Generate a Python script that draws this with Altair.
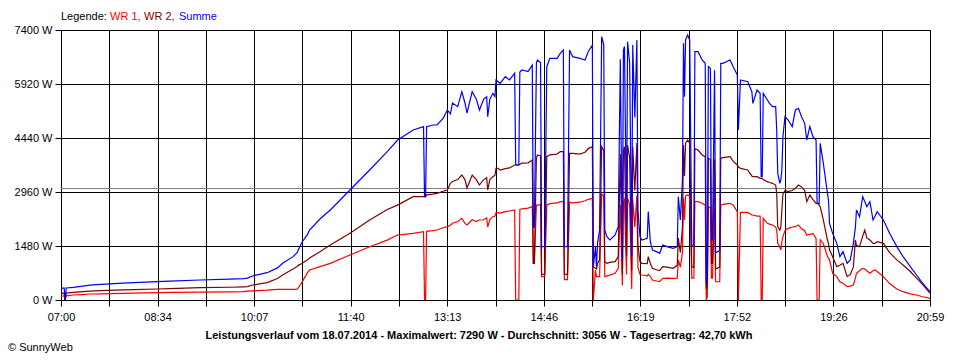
import json
import altair as alt
import pandas as pd

# ---------------- data ----------------
times = [
    "07:00", "07:03", "07:04", "07:05", "07:12", "07:21", "07:28", "07:38", "08:00", "08:10",
    "08:33", "08:45", "09:14", "09:43", "09:56", "10:00", "10:05", "10:19", "10:29", "10:34",
    "10:44", "10:48", "10:49", "10:53", "10:58", "11:00", "11:10", "11:20", "11:39", "11:58",
    "12:15", "12:25", "12:40", "12:50", "12:51", "12:52", "12:53", "12:59", "13:03", "13:09",
    "13:13", "13:16", "13:18", "13:23", "13:27", "13:30", "13:32", "13:37", "13:41", "13:44",
    "13:48", "13:51", "13:52", "13:54", "13:57", "13:59", "14:00", "14:02", "14:04", "14:09",
    "14:13", "14:18", "14:19", "14:22", "14:23", "14:25", "14:31", "14:35", "14:36", "14:37",
    "14:39", "14:40", "14:43", "14:44", "14:47", "14:49", "14:52", "14:59", "15:02", "15:05",
    "15:06", "15:09", "15:11", "15:14", "15:21", "15:26", "15:29", "15:33", "15:34", "15:36",
    "15:37", "15:38", "15:40", "15:42", "15:44", "15:45", "15:47", "15:50", "15:55", "15:58",
    "16:00", "16:02", "16:03", "16:04", "16:06", "16:07", "16:09", "16:11", "16:12", "16:14",
    "16:16", "16:17", "16:19", "16:21", "16:26", "16:27", "16:29", "16:31", "16:35", "16:38",
    "16:41", "16:45", "16:51", "16:55", "16:56", "16:58", "17:00", "17:01", "17:02", "17:03",
    "17:05", "17:07", "17:09", "17:11", "17:12", "17:15", "17:19", "17:22", "17:23", "17:24",
    "17:25", "17:27", "17:28", "17:29", "17:31", "17:32", "17:36", "17:37", "17:39", "17:46",
    "17:49", "17:53", "17:54", "17:56", "18:03", "18:07", "18:08", "18:12", "18:15", "18:16",
    "18:17", "18:18", "18:22", "18:24", "18:27", "18:30", "18:31", "18:32", "18:34", "18:35",
    "18:36", "18:37", "18:39", "18:42", "18:46", "18:49", "18:52", "18:55", "18:58", "19:00",
    "19:03", "19:06", "19:09", "19:10", "19:12", "19:13", "19:16", "19:20", "19:21", "19:22",
    "19:25", "19:29", "19:32", "19:35", "19:39", "19:42", "19:45", "19:47", "19:48", "19:51",
    "19:54", "19:56", "19:58", "20:01", "20:04", "20:06", "20:08", "20:14", "20:20", "20:27",
    "20:33", "20:40", "20:46", "20:52", "20:59",
]

summe = [
    320, 330, 0, 330, 345, 380, 410, 430, 465, 475,
    503, 515, 548, 570, 585, 600, 658, 749, 880, 1005,
    1188, 1300, 1370, 1598, 1800, 1919, 2220, 2467, 3015, 3563,
    4065, 4385, 4659, 4750, 2831, 2831, 4750, 4796, 4800, 4979,
    5207, 5100, 5400, 5300, 5710, 5400, 5125, 5710, 5500, 5207,
    5500, 5572, 5024, 5500, 5664, 5573, 6030, 5983, 5938, 6121,
    6030, 6213, 3700, 3700, 6250, 6304, 6258, 6441, 2000, 2000,
    6500, 6578, 6500, 1462, 1462, 6395, 6624, 6624, 6760, 6852,
    1462, 1462, 6852, 6669, 6624, 6578, 6806, 6989, 900, 1462,
    900, 1553, 1918, 7217, 7000, 1918, 1736, 1644, 1781, 2010,
    6600, 1100, 6850, 6950, 2000, 7080, 6500, 1200, 6990, 5000,
    7126, 2467, 1736, 1644, 1690, 2421, 1600, 1370, 1325, 1279,
    1507, 1462, 1416, 1462, 2832, 2193, 3289, 7035, 5573, 7126,
    7263, 7126, 1500, 1500, 6806, 6806, 6578, 6486, 457, 600,
    6400, 6349, 1644, 1644, 6300, 1300, 1350, 6486, 6486, 6578,
    6395, 6167, 4659, 6030, 5984, 5710, 5390, 5755, 5664, 3380,
    3380, 5664, 5482, 5390, 5299, 5300, 4659, 3471, 3198, 3300,
    3563, 4477, 5025, 4933, 4751, 5207, 5253, 5025, 4842, 4385,
    4751, 4477, 4385, 2649, 2649, 4294, 3746, 2924, 2741, 2101,
    1827, 1553, 1188, 1325, 1005, 1096, 1553, 2000, 2467, 2284,
    2832, 2700, 2558, 2695, 2193, 2300, 2421, 2193, 1827, 1462,
    1188, 914, 685, 457, 228,
]

wr2 = [
    183, 190, 0, 190, 210, 228, 245, 256, 280, 285,
    301, 310, 338, 350, 360, 365, 411, 475, 590, 685,
    850, 920, 950, 1005, 1100, 1150, 1324, 1507, 1827, 2193,
    2480, 2600, 2831, 2831, 2831, 2831, 2880, 2900, 2924, 2980,
    3015, 3198, 3250, 3300, 3426, 3300, 3070, 3426, 3300, 3152,
    3300, 3350, 3015, 3300, 3380, 3420, 3609, 3609, 3560, 3600,
    3620, 3700, 3700, 3700, 3720, 3750, 3760, 3837, 1005, 1005,
    3900, 3974, 3950, 700, 700, 3928, 3980, 4000, 4066, 4066,
    700, 700, 4020, 4020, 4000, 4050, 4150, 4202, 900, 868,
    850, 1000, 1096, 4200, 4100, 1050, 1005, 1030, 1050, 1188,
    4000, 700, 4100, 4200, 1200, 4250, 3900, 800, 4200, 3000,
    4300, 1500, 1050, 1005, 1000, 1188, 1000, 868, 830, 804,
    914, 900, 868, 950, 1700, 1300, 2000, 4250, 3400, 4300,
    4385, 4300, 900, 900, 4150, 4111, 3974, 3930, 300, 400,
    3883, 3850, 1000, 1000, 3850, 850, 900, 3883, 3900, 3928,
    3800, 3700, 3650, 3609, 3563, 3400, 3380, 3380, 3335, 3335,
    3335, 3300, 3243, 3220, 3198, 3150, 2924, 2010, 1918, 2000,
    2467, 2900, 3000, 2969, 3000, 3061, 3152, 3100, 3000, 2695,
    2878, 2750, 2649, 2649, 2600, 2558, 2193, 1644, 1550, 1370,
    1188, 914, 950, 1005, 640, 700, 900, 1644, 1500, 1462,
    1750, 1918, 1700, 1644, 1553, 1553, 1600, 1553, 1300, 1100,
    959, 780, 600, 420, 183,
]

wr1 = [
    110, 115, 0, 115, 137, 150, 164, 170, 183, 190,
    200, 211, 215, 222, 228, 245, 250, 270, 293, 293,
    293, 300, 330, 503, 749, 822, 913, 1005, 1233, 1461,
    1640, 1780, 1827, 1872, 0, 0, 1880, 1900, 1919, 1980,
    2010, 2050, 2102, 2150, 2239, 2100, 2056, 2200, 2150, 2193,
    2200, 2250, 2000, 2200, 2284, 2300, 2393, 2393, 2380, 2420,
    2440, 2467, 0, 0, 2480, 2500, 2520, 2558, 1000, 1000,
    2600, 2600, 2620, 640, 640, 2600, 2640, 2660, 2695, 2700,
    560, 560, 2680, 2660, 2680, 2720, 2760, 2786, 0, 822,
    640, 640, 640, 2900, 2850, 640, 660, 680, 731, 868,
    2600, 400, 2700, 2750, 700, 2800, 2600, 300, 2750, 2000,
    2850, 900, 700, 685, 660, 700, 650, 548, 520, 502,
    594, 600, 594, 600, 1100, 900, 1300, 2800, 2200, 2850,
    2878, 2850, 600, 600, 2700, 2695, 2650, 2600, 0, 100,
    2550, 2530, 600, 600, 2500, 500, 500, 2604, 2620, 2649,
    2600, 2421, 0, 2400, 2400, 2330, 2330, 2300, 2300, 0,
    0, 2238, 2101, 2080, 2056, 2000, 1918, 1553, 1450, 1370,
    1600, 1736, 1900, 1964, 2000, 2010, 2056, 1950, 1900, 1781,
    1800, 1827, 1690, 0, 0, 1650, 1550, 1188, 1150, 1096,
    731, 640, 500, 457, 365, 380, 411, 600, 731, 800,
    868, 850, 800, 731, 800, 822, 780, 640, 450, 300,
    228, 170, 137, 90, 46,
]

series_names = ["WR 1", "WR 2", "Summe"]
series_colors = ["#ff0000", "#800000", "#0000ff"]
x_labels = ["07:00", "08:34", "10:07", "11:40", "13:13",
            "14:46", "16:19", "17:52", "19:26", "20:59"]
y_ticks = [0, 1480, 2960, 4440, 5920, 7400]
average_w = 3056
title_text = ("Leistungsverlauf vom 18.07.2014 - Maximalwert: 7290 W - "
              "Durchschnitt: 3056 W - Tagesertrag: 42,70 kWh")
copyright_text = "\u00a9 SunnyWeb"
legend_parts = [("Legende:", "#000000"), ("WR 1,", "#ff0000"),
                ("WR 2,", "#800000"), ("Summe", "#0000ff")]

assert len(times) == len(summe) == len(wr1) == len(wr2)


def to_minutes(s):
    h, m = s.split(":")
    return int(h) * 60 + int(m)


mins = [to_minutes(t) for t in times]
rows = []
for name, vals in zip(series_names, [wr1, wr2, summe]):
    for t, v in zip(mins, vals):
        rows.append({"t": t, "value": v, "series": name})
df = pd.DataFrame(rows)

t0, t1 = to_minutes(x_labels[0]), to_minutes(x_labels[-1])
n_div = 2 * (len(x_labels) - 1)
step = (t1 - t0) / n_div
grid_vals = [t0 + k * step for k in range(n_div + 1)]
lab_arr = [x_labels[k // 2] if k % 2 == 0 else "" for k in range(n_div + 1)]
label_expr = json.dumps(lab_arr) + f"[round((datum.value - {t0}) / {step})]"

FONT = "Liberation Sans"

x_enc = alt.X(
    "t:Q",
    scale=alt.Scale(domain=[t0, t1], nice=False, zero=False),
    axis=alt.Axis(values=grid_vals, labelExpr=label_expr, title=None,
                  grid=True, gridColor="black", gridWidth=1, gridOpacity=1,
                  domainColor="black", tickColor="black", tickSize=6,
                  labelColor="black", labelFont=FONT, labelFontSize=11,
                  labelPadding=5, labelFlush=False, labelOverlap=False),
)
y_enc = alt.Y(
    "value:Q",
    scale=alt.Scale(domain=[0, 7400], nice=False),
    axis=alt.Axis(values=y_ticks, labelExpr="datum.value + ' W'", title=None,
                  grid=True, gridColor="black", gridWidth=1, gridOpacity=1,
                  domainColor="black", tickColor="black", tickSize=6,
                  labelColor="black", labelFont=FONT, labelFontSize=11,
                  labelPadding=3, labelOverlap=False),
)

avg_rule = alt.Chart(pd.DataFrame({"value": [average_w]})).mark_rule(
    color="#808080", strokeWidth=1
).encode(y=y_enc)

lines = [
    alt.Chart(df).transform_filter(alt.datum.series == name)
    .mark_line(color=col, strokeWidth=1.2, clip=True)
    .encode(x=x_enc, y=y_enc)
    for name, col in zip(series_names, series_colors)
]

one = pd.DataFrame({"k": [0]})
legend_offsets = [0, 49, 83, 118]
texts = []
for (txt, col), off in zip(legend_parts, legend_offsets):
    texts.append(
        alt.Chart(one).mark_text(text=txt, color=col, align="left",
                                 baseline="middle", font=FONT, fontSize=11)
        .encode(x=alt.value(off), y=alt.value(-13))
    )
texts.append(
    alt.Chart(one).mark_text(text=title_text, color="black", align="center",
                             baseline="middle", font=FONT, fontSize=11,
                             fontWeight="bold")
    .encode(x=alt.value(418), y=alt.value(306))
)
texts.append(
    alt.Chart(one).mark_text(text=copyright_text, color="black", align="left",
                             baseline="middle", font=FONT, fontSize=11)
    .encode(x=alt.value(-53), y=alt.value(318))
)

chart = alt.layer(avg_rule, *lines, *texts).properties(
    width=869,
    height=270,
    padding={"left": 53, "top": 22, "right": 22, "bottom": 58},
    autosize=alt.AutoSizeParams(type="none"),
    background="white",
).configure_view(stroke="black", strokeWidth=1)

chart.save("out.html", embed_options={"renderer": "svg", "actions": False})
